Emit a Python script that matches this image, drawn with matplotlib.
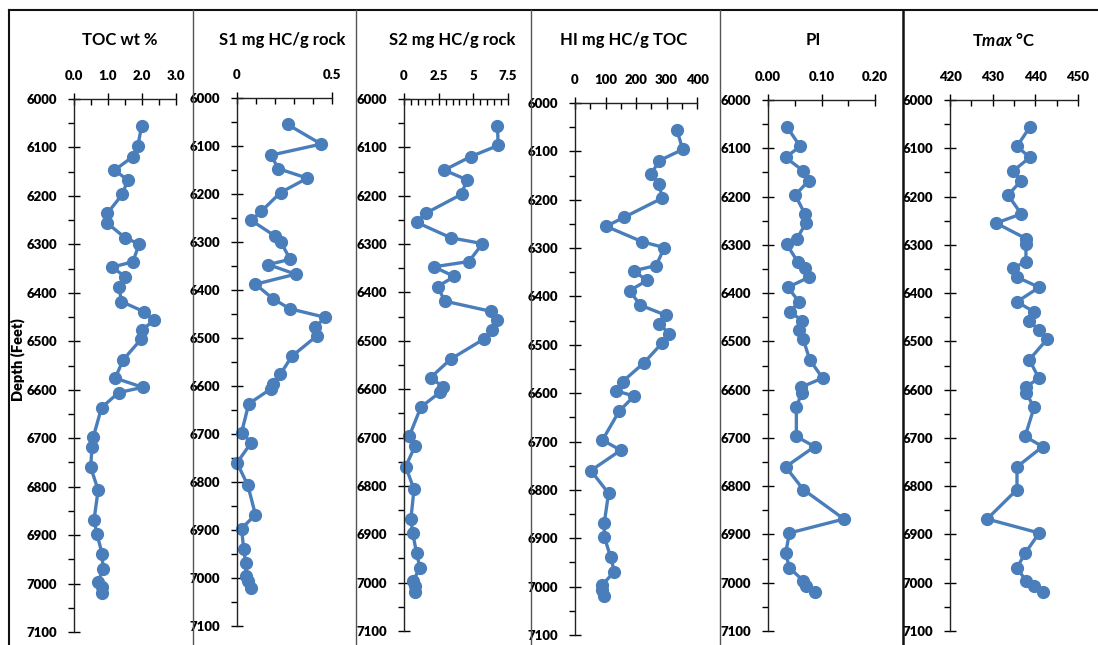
import matplotlib.pyplot as plt
from matplotlib.ticker import MultipleLocator, FuncFormatter
from matplotlib.lines import Line2D

# depth of each sample (ft)
depth = [6055, 6096, 6119, 6147, 6167, 6197, 6236, 6255, 6287, 6299,
         6336, 6347, 6367, 6388, 6418, 6439, 6457, 6477, 6496, 6538,
         6576, 6595, 6606, 6637, 6697, 6718, 6760, 6807, 6868, 6897,
         6939, 6969, 6996, 7007, 7020]

toc = [1.99, 1.88, 1.73, 1.19, 1.58, 1.42, 0.98, 0.96, 1.51, 1.92,
       1.73, 1.12, 1.51, 1.33, 1.39, 2.06, 2.35, 1.99, 1.97, 1.45,
       1.21, 2.02, 1.31, 0.81, 0.57, 0.53, 0.49, 0.71, 0.59, 0.67,
       0.83, 0.85, 0.72, 0.82, 0.82]

s1 = [0.266, 0.443, 0.18, 0.216, 0.37, 0.229, 0.128, 0.075, 0.198, 0.229,
      0.28, 0.165, 0.308, 0.097, 0.189, 0.277, 0.465, 0.412, 0.419, 0.289,
      0.227, 0.19, 0.178, 0.062, 0.024, 0.075, 0.0, 0.057, 0.097, 0.024,
      0.035, 0.046, 0.046, 0.06, 0.075]

s2 = [6.74, 6.79, 4.82, 2.90, 4.53, 4.15, 1.58, 0.91, 3.38, 5.66,
      4.68, 2.16, 3.62, 2.42, 2.95, 6.26, 6.71, 6.38, 5.78, 3.36,
      1.92, 2.81, 2.61, 1.22, 0.38, 0.79, 0.12, 0.72, 0.50, 0.62,
      0.91, 1.15, 0.67, 0.79, 0.79]

hi = [334, 353, 277, 249, 277, 285, 162, 102, 221, 293,
      266, 192, 236, 179, 214, 299, 277, 309, 286, 225,
      156, 134, 194, 145, 90, 150, 52, 110, 96, 96,
      117, 129, 90, 90, 94]

pi = [0.035, 0.060, 0.033, 0.066, 0.076, 0.051, 0.069, 0.071, 0.054, 0.035,
      0.056, 0.069, 0.077, 0.037, 0.058, 0.041, 0.064, 0.058, 0.066, 0.078,
      0.102, 0.062, 0.063, 0.053, 0.053, 0.087, 0.033, 0.066, 0.142, 0.040,
      0.033, 0.040, 0.066, 0.071, 0.087]

tmax = [438.8, 435.7, 438.7, 434.8, 436.7, 433.6, 436.7, 430.8, 437.8, 437.8,
        437.8, 434.8, 435.7, 440.9, 435.7, 439.7, 438.6, 440.8, 442.7, 438.6,
        440.8, 437.8, 437.8, 439.7, 437.6, 441.7, 435.7, 435.7, 428.7, 440.9,
        437.6, 435.7, 437.8, 439.6, 441.7]

FONT = ['Lato', 'DejaVu Sans']
plt.rcParams['font.family'] = FONT
plt.rcParams['font.weight'] = 'bold'
plt.rcParams['mathtext.fontset'] = 'custom'
plt.rcParams['mathtext.it'] = 'Lato:italic:bold'
plt.rcParams['mathtext.rm'] = 'Lato:bold'

W, H = 1098, 645
fig = plt.figure(figsize=(W / 100, H / 100), dpi=100)
blue = '#4A7EBB'


def fmt_g(v, pos):
    return f'{v:g}'


def fmt(spec):
    return FuncFormatter(lambda v, pos: spec % v)


# values, title, xlim, major, minor, formatter, box (x0, x1, y_top, y_bottom), title x
panels = [
    (toc, 'TOC wt %', (0, 3.0), 1.0, 0.5, fmt('%.1f'), (74, 176, 99, 632), 120),
    (s1, 'S1 mg HC/g rock', (0, 0.5), 0.5, 0.1, FuncFormatter(fmt_g), (237, 332, 98, 626), 282),
    (s2, 'S2 mg HC/g rock', (0, 7.5), 2.5, 0.5, FuncFormatter(fmt_g), (404, 508, 99, 631), 452),
    (hi, 'HI mg HC/g TOC', (0, 400), 100, 50, FuncFormatter(fmt_g), (575, 697, 103, 635), 624),
    (pi, 'PI', (0, 0.20), 0.10, 0.05, fmt('%.2f'), (768, 875, 100, 631), 813),
    (tmax, r'T$max$ °C', (420, 450), 10, 5, FuncFormatter(fmt_g), (950, 1078, 100, 631), 1004),
]

for vals, title, xlim, major, minor, formatter, box, tx in panels:
    x0, x1, yt, yb = box
    ax = fig.add_axes([x0 / W, 1 - yb / H, (x1 - x0) / W, (yb - yt) / H])
    ax.plot(vals, depth, color=blue, lw=2.4, marker='o', ms=8.5,
            markeredgecolor=blue, clip_on=False)
    ax.set_xlim(*xlim)
    ax.set_ylim(7100, 6000)
    ax.xaxis.tick_top()
    ax.xaxis.set_major_locator(MultipleLocator(major))
    ax.xaxis.set_minor_locator(MultipleLocator(minor))
    ax.xaxis.set_major_formatter(formatter)
    ax.yaxis.set_major_locator(MultipleLocator(100))
    ax.yaxis.set_minor_locator(MultipleLocator(50))
    for s in ['right', 'bottom']:
        ax.spines[s].set_visible(False)
    for s in ['top', 'left']:
        ax.spines[s].set_color('#222222')
        ax.spines[s].set_linewidth(1.0)
    ax.tick_params(axis='x', which='major', direction='inout', length=8,
                   width=1, pad=8, labelsize=9.5)
    ax.tick_params(axis='x', which='minor', direction='in', length=4, width=1)
    ax.tick_params(axis='y', which='major', direction='inout', length=8,
                   width=1, pad=8, labelsize=9.5)
    ax.tick_params(axis='y', which='minor', direction='out', length=4, width=1)
    for lab in ax.get_xticklabels() + ax.get_yticklabels():
        lab.set_fontweight('heavy')
    ax.patch.set_alpha(0)
    fig.text(tx / W, 1 - 40 / H, title, ha='center', va='center',
             fontsize=12, fontweight='bold')

fig.text(18 / W, 1 - 360 / H, 'Depth (Feet)', rotation=90, ha='center',
         va='center', fontsize=10.5, fontweight='heavy')

# frame and panel dividers
def fline(xs, ys, color, lw):
    fig.add_artist(Line2D([x / W for x in xs], [1 - y / H for y in ys],
                          color=color, lw=lw, transform=fig.transFigure))

fline([9, W], [10, 10], '#111111', 1.5)
fline([9, 9], [10, H], '#111111', 1.5)
for xd in [193, 356, 531, 720]:
    fline([xd, xd], [10, H], '#555555', 1.0)
fline([903, 903], [10, H], '#111111', 1.8)

fig.savefig('out.png', dpi=100)
